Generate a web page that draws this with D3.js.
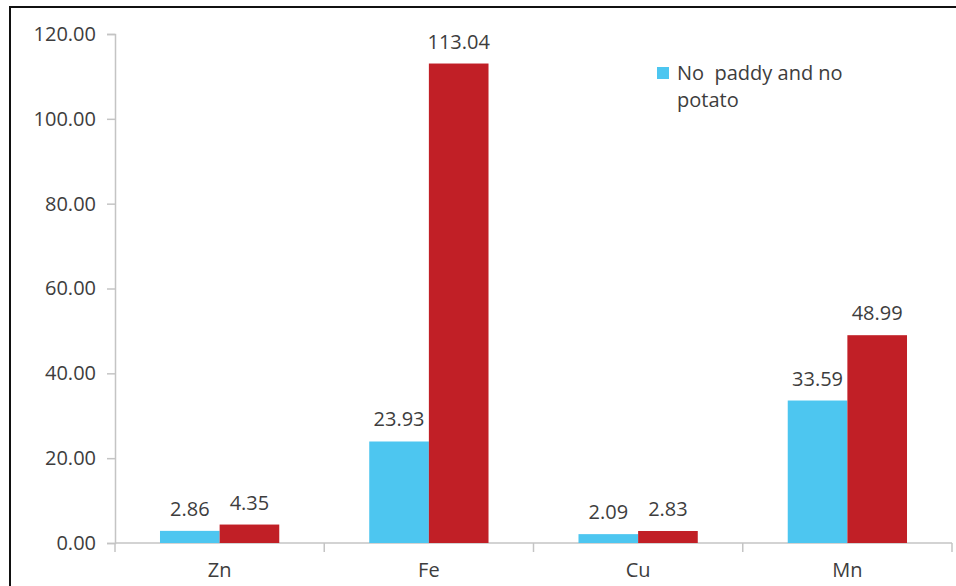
<!DOCTYPE html>
<html>
<head>
<meta charset="utf-8">
<script src="https://d3js.org/d3.v7.min.js"></script>
<style>
  body { margin: 0; background: #fff; }
  svg text { font-family: "Open Sans", "DejaVu Sans", sans-serif; fill: #3d3d3d; }
</style>
</head>
<body>
<div id="chart"></div>
<script>
// data
var categories = ["Zn", "Fe", "Cu", "Mn"];
var series1 = [2.86, 23.93, 2.09, 33.59];   // No paddy and no potato
var series2 = [4.35, 113.04, 2.83, 48.99];  // second series (no legend entry visible)
var yTicks = [0, 20, 40, 60, 80, 100, 120];

var width = 956, height = 586;
var margin = {top: 34, right: 4, bottom: 43, left: 115};
var fontSize = 20;

var svg = d3.select("#chart").append("svg")
    .attr("width", width)
    .attr("height", height);

// frame, only top and left edges show in the picture
svg.append("path")
    .attr("d", "M10,586 V7 H956")
    .attr("fill", "none")
    .attr("stroke", "#111")
    .attr("stroke-width", 2);

var x = d3.scaleBand()
    .domain(categories)
    .range([margin.left, 952]);

var y = d3.scaleLinear()
    .domain([0, 120])
    .range([543, margin.top]);

// y axis
var yAxis = svg.append("g")
    .attr("transform", "translate(" + margin.left + ",0)")
    .call(d3.axisLeft(y).tickValues(yTicks).tickSize(8).tickPadding(11)
        .tickFormat(function(d) { return d3.format(".2f")(d); }));
yAxis.select(".domain").attr("stroke", "#c4c4c4").attr("stroke-width", 1.5);
yAxis.selectAll(".tick line").attr("stroke", "#c4c4c4").attr("stroke-width", 1.5);
yAxis.selectAll(".tick text").attr("font-size", fontSize).attr("fill", "#3d3d3d")
    .attr("font-family", "'Open Sans', sans-serif");

// x axis, ticks between categories
var xAxis = svg.append("g")
    .attr("transform", "translate(0," + y(0) + ")");
xAxis.append("line")
    .attr("x1", margin.left).attr("x2", 952)
    .attr("stroke", "#c4c4c4").attr("stroke-width", 1.5);
var bounds = categories.map(function(c) { return x(c); }).concat([x(categories[3]) + x.bandwidth()]);
xAxis.selectAll(".sep").data(bounds).enter().append("line")
    .attr("x1", function(d) { return d; }).attr("x2", function(d) { return d; })
    .attr("y1", 0).attr("y2", 9)
    .attr("stroke", "#c4c4c4").attr("stroke-width", 1.5);
xAxis.selectAll(".cat").data(categories).enter().append("text")
    .attr("x", function(d) { return x(d) + x.bandwidth() / 2; })
    .attr("y", 34)
    .attr("text-anchor", "middle")
    .attr("font-size", fontSize)
    .text(function(d) { return d; });

// bars
var barW = x.bandwidth() * 0.285;
var colors = ["#4dc6f0", "#c11f26"];
[series1, series2].forEach(function(vals, s) {
    var g = svg.append("g");
    g.selectAll("rect").data(vals).enter().append("rect")
        .attr("x", function(d, i) { return x(categories[i]) + x.bandwidth() / 2 + (s - 1) * barW; })
        .attr("y", function(d) { return y(d); })
        .attr("width", barW)
        .attr("height", function(d) { return y(0) - y(d); })
        .attr("fill", colors[s]);
    g.selectAll("text").data(vals).enter().append("text")
        .attr("x", function(d, i) { return x(categories[i]) + x.bandwidth() / 2 + (s - 0.5) * barW; })
        .attr("y", function(d) { return y(d) - 15; })
        .attr("text-anchor", "middle")
        .attr("font-size", fontSize)
        .text(function(d) { return d3.format(".2f")(d); });
});

// legend
var legend = svg.append("g").attr("transform", "translate(657,67)");
legend.append("rect").attr("width", 12).attr("height", 12).attr("fill", colors[0]);
legend.append("text").attr("x", 20).attr("y", 13).attr("font-size", fontSize)
    .attr("xml:space", "preserve")
    .text("No  paddy and no");
legend.append("text").attr("x", 20).attr("y", 40).attr("font-size", fontSize)
    .text("potato");
</script>
</body>
</html>
